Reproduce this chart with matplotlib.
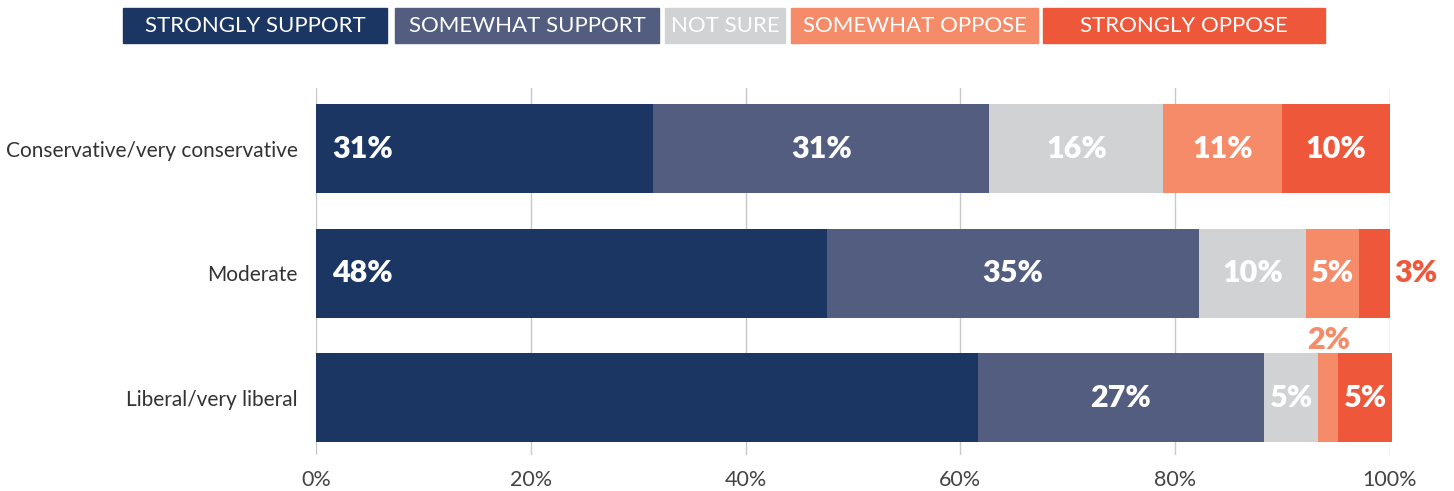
import matplotlib.pyplot as plt
from matplotlib.patches import Rectangle
import numpy as np

# survey responses by ideology, percent of respondents
groups = ['Conservative/very conservative', 'Moderate', 'Liberal/very liberal']
responses = ['STRONGLY SUPPORT', 'SOMEWHAT SUPPORT', 'NOT SURE', 'SOMEWHAT OPPOSE', 'STRONGLY OPPOSE']
strongly_support = [31.4, 47.6, 61.6]
somewhat_support = [31.3, 34.6, 26.7]
not_sure = [16.2, 10.0, 5.0]
somewhat_oppose = [11.0, 4.9, 1.9]
strongly_oppose = [10.1, 2.9, 5.0]
xticks = [0, 20, 40, 60, 80, 100]

colors = ['#1b3663', '#525d80', '#d1d2d4', '#f58b69', '#ef573a']
W, H = 1454, 491

plt.rcParams['font.family'] = ['Lato', 'DejaVu Sans']
fig = plt.figure(figsize=(W / 100, H / 100), dpi=100)
ax = fig.add_axes([316 / W, 1 - 455 / H, (1390 - 316) / W, (455 - 88) / H])

series = [strongly_support, somewhat_support, not_sure, somewhat_oppose, strongly_oppose]
y = np.arange(len(groups))
left = np.zeros(len(groups))
for i, vals in enumerate(series):
    vals = np.array(vals)
    ax.barh(y, vals, left=left, height=0.715, color=colors[i], zorder=2, clip_on=False)
    for j, v in enumerate(vals):
        lab = '%d%%' % round(v)
        kw = dict(fontsize=22, fontweight='heavy', va='center', zorder=3)
        if i == 0:
            # strongest support labelled at the bar start, skipped on the last row
            if j < 2:
                ax.text(1.5, j, lab, ha='left', color='white', **kw)
        elif i == 4 and v < 4:
            ax.text(left[j] + v + 2.4, j, lab, ha='center', color=colors[i], **kw)
        elif i == 3 and v < 3:
            ax.text(left[j] + v / 2, j - 0.46, lab, ha='center', color=colors[i], **kw)
        else:
            ax.text(left[j] + v / 2, j, lab, ha='center', color='white', **kw)
    left += vals

ax.set_xlim(0, 100)
ax.set_ylim(2.46, -0.486)
ax.set_xticks(xticks)
ax.set_xticklabels(['%d%%' % t for t in xticks], fontsize=15.5, color='#444444')
ax.set_yticks(y)
ax.set_yticklabels(groups, fontsize=15, color='#333333')
ax.tick_params(axis='x', length=0, pad=11)
ax.tick_params(axis='y', length=0, pad=13)
ax.grid(axis='x', color='#c8c8c8', linewidth=1, zorder=0)
for s in ax.spines.values():
    s.set_visible(False)

# legend boxes across the top
boxes = [(123, 387), (395, 659), (665, 785), (791, 1038), (1043, 1325)]
for (x0, x1), name, c in zip(boxes, responses, colors):
    fig.patches.append(Rectangle((x0 / W, 1 - 43 / H), (x1 - x0) / W, 35 / H,
                                 transform=fig.transFigure, color=c))
    fig.text((x0 + x1) / 2 / W, 1 - 26 / H, name, ha='center', va='center',
             color='white', fontsize=16)

fig.savefig('out.png', dpi=100)
